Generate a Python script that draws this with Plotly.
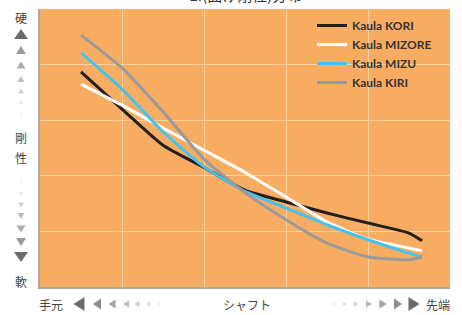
import plotly.graph_objects as go

# ---- data ----
positions = [0.5, 1.0, 1.5, 2.0, 2.5, 3.0, 3.5, 4.0, 4.5, 4.66]
kori   = [3.87, 3.20, 2.55, 2.15, 1.74, 1.53, 1.33, 1.15, 0.97, 0.83]
mizore = [3.65, 3.27, 2.86, 2.46, 2.06, 1.62, 1.17, 0.86, 0.70, 0.65]
mizu   = [4.21, 3.56, 2.79, 2.16, 1.72, 1.42, 1.12, 0.85, 0.61, 0.54]
kiri   = [4.53, 3.94, 3.15, 2.30, 1.70, 1.21, 0.79, 0.54, 0.49, 0.54]
series_names = ["Kaula KORI", "Kaula MIZORE", "Kaula MIZU", "Kaula KIRI"]
series_colors = ["#231F20", "#FFFFFF", "#45C3EE", "#9A9A9A"]
title_text = "EI(曲げ剛性)分布"
y_labels = ["硬", "剛", "性", "軟"]
x_labels = ["手元", "シャフト", "先端"]

W, H = 462, 315
L, R, T, B = 40, 450, 9, 287

def px2x(px):
    return px / W

def py2y(py):
    return 1 - py / H

fig = go.Figure()
for name, vals, col in zip(series_names, [kori, mizore, mizu, kiri], series_colors):
    fig.add_trace(go.Scatter(x=positions, y=vals, mode="lines", name=name,
                             line=dict(color=col, width=3, shape="spline", smoothing=0.55)))

# decorative triangles (layout shapes in paper coords)
shapes = []

def triangle(cx, cy, w, h, direction, color):
    if direction == "up":
        pts = [(cx - w / 2, cy + h / 2), (cx + w / 2, cy + h / 2), (cx, cy - h / 2)]
    elif direction == "down":
        pts = [(cx - w / 2, cy - h / 2), (cx + w / 2, cy - h / 2), (cx, cy + h / 2)]
    elif direction == "left":
        pts = [(cx + w / 2, cy - h / 2), (cx + w / 2, cy + h / 2), (cx - w / 2, cy)]
    else:
        pts = [(cx - w / 2, cy - h / 2), (cx - w / 2, cy + h / 2), (cx + w / 2, cy)]
    path = "M " + " L ".join(f"{px2x(a):.5f},{py2y(b):.5f}" for a, b in pts) + " Z"
    shapes.append(dict(type="path", path=path, xref="paper", yref="paper",
                       fillcolor=color, line=dict(width=0), layer="above"))

v_sizes = [(14, 10), (10, 8), (9, 7), (7, 6), (6, 5), (4.5, 3.5), (3.5, 2.5)]
v_cols = ["#6B6B6B", "#9A9A9A", "#ABABAB", "#BDBDBD", "#CFCFCF", "#E0E0E0", "#EEEEEE"]
for (w, h), c, y in zip(v_sizes, v_cols, [34, 50, 65, 79, 91, 102, 113]):
    triangle(21, y, w, h, "up", c)
for (w, h), c, y in zip(v_sizes, v_cols, [257, 242, 229, 216, 205, 194, 183]):
    triangle(21, y, w, h, "down", c)
h_sizes = [(11, 14), (8, 11), (7, 9), (6, 7), (5, 6), (4, 5), (3, 4)]
h_cols = ["#6B6B6B", "#8C8C8C", "#A4A4A4", "#B8B8B8", "#CCCCCC", "#DCDCDC", "#EAEAEA"]
for (w, h), c, x in zip(h_sizes, h_cols, [79, 97, 112, 126, 137, 148, 159]):
    triangle(x, 304, w, h, "left", c)
for (w, h), c, x in zip(h_sizes, h_cols, [414, 398, 383, 369, 356, 345, 334]):
    triangle(x, 304, w, h, "right", c)

cjk = "Noto Sans CJK JP"
ann = []
for txt, py in zip(y_labels, [17, 137, 157, 281]):
    ann.append(dict(text=txt, x=px2x(21), y=py2y(py), xref="paper", yref="paper",
                    showarrow=False, xanchor="center", yanchor="middle",
                    font=dict(family=cjk, size=12, color="#444444")))
for txt, px in zip(x_labels, [51, 247, 438]):
    ann.append(dict(text=txt, x=px2x(px), y=py2y(304), xref="paper", yref="paper",
                    showarrow=False, xanchor="center", yanchor="middle",
                    font=dict(family=cjk, size=12, color="#444444")))
ann.append(dict(text=title_text, x=px2x(245), y=py2y(7), xref="paper", yref="paper",
                showarrow=False, xanchor="center", yanchor="bottom",
                font=dict(family=cjk, size=15, color="#333333")))

fig.update_layout(
    width=W, height=H,
    margin=dict(l=0, r=0, t=0, b=0),
    paper_bgcolor="white", plot_bgcolor="#F9AD62",
    xaxis=dict(domain=[L / W, R / W], range=[0, 5], dtick=1, showgrid=True,
               gridcolor="#FCD3A0", gridwidth=1, zeroline=False, showticklabels=False,
               ticks="", showline=True, linecolor="#A8A8A8", linewidth=2, fixedrange=True),
    yaxis=dict(domain=[1 - B / H, 1 - T / H], range=[0, 5], dtick=1, showgrid=True,
               gridcolor="#FCD3A0", gridwidth=1, zeroline=False, showticklabels=False,
               ticks="", showline=True, linecolor="#A8A8A8", linewidth=2, fixedrange=True),
    showlegend=True,
    legend=dict(x=px2x(312), y=py2y(11), xanchor="left", yanchor="top",
                bgcolor="rgba(0,0,0,0)", borderwidth=0,
                font=dict(family="Lato", size=12, color="#333333", weight="bold"),
                itemwidth=30, tracegroupgap=0),
    annotations=ann,
    shapes=shapes,
)

fig.write_html("out.html", config={"displayModeBar": False},
               post_script="document.body.style.margin='0';")
